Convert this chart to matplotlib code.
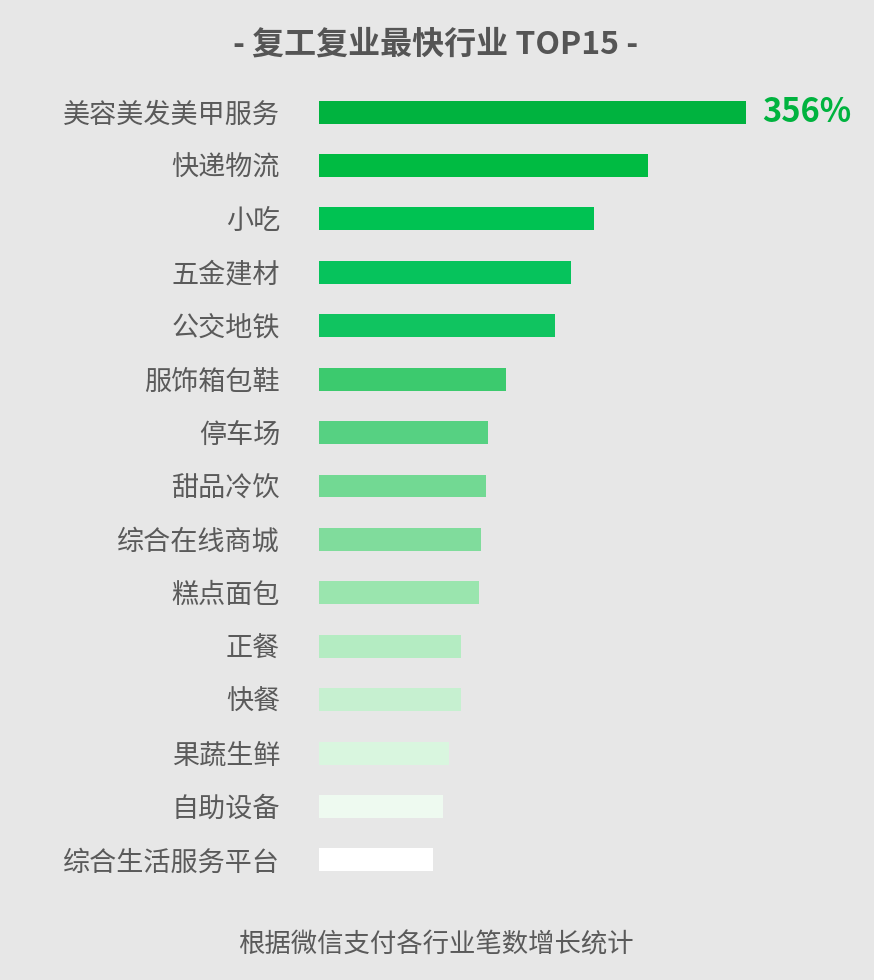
import numpy as np
import matplotlib.pyplot as plt

plt.rcParams['font.family'] = ['Noto Sans CJK SC', 'DejaVu Sans']

# data
industries = ['美容美发美甲服务', '快递物流', '小吃', '五金建材', '公交地铁',
              '服饰箱包鞋', '停车场', '甜品冷饮', '综合在线商城', '糕点面包',
              '正餐', '快餐', '果蔬生鲜', '自助设备', '综合生活服务平台']
growth = [356, 274, 229, 210, 197, 156, 141, 139, 135, 133, 118, 118, 108, 103, 95]
bar_colors = ['#00b33f', '#00bb42', '#00c252', '#06c35c', '#10c460',
              '#3cca6e', '#56d182', '#72d993', '#80dc9c', '#9ae5ae',
              '#b4ecc2', '#c6f0d0', '#d9f6df', '#eefaf0', '#ffffff']
title = '- 复工复业最快行业 TOP15 -'
footer = '根据微信支付各行业笔数增长统计'

bg = '#e7e7e7'
W, H = 874, 980
fig = plt.figure(figsize=(W / 100, H / 100), dpi=100, facecolor=bg)

ax_left = 319 / W
ax_width = (746 - 319) / W
ax_top = 85.3
ax_bottom = 886.7
ax = fig.add_axes([ax_left, 1 - ax_bottom / H, ax_width, (ax_bottom - ax_top) / H])
ax.set_facecolor('none')

y = np.arange(len(industries))
ax.barh(y, growth, height=0.43, color=bar_colors, edgecolor='none')
ax.set_xlim(0, max(growth))
ax.set_ylim(len(industries) - 0.5, -0.5)

ax.set_yticks(y)
ax.set_yticklabels(industries, fontsize=19.5, color='#5a5a5a')
ax.tick_params(axis='y', length=0, pad=28)
ax.set_xticks([])
for s in ax.spines.values():
    s.set_visible(False)

# value label for the top bar only
ax.annotate(f'{growth[0]}%', xy=(growth[0], 0), xytext=(12, 0),
            textcoords='offset points', va='center', ha='left',
            fontsize=23.5, fontweight='bold', color='#00b33f')

fig.text(436 / W, 1 - 45 / H, title, ha='center', va='center',
         fontsize=23, fontweight='bold', color='#555555')
fig.text(436 / W, 1 - 945 / H, footer, ha='center', va='center',
         fontsize=19, color='#5a5a5a')

fig.savefig('out.png', dpi=100, facecolor=bg)
